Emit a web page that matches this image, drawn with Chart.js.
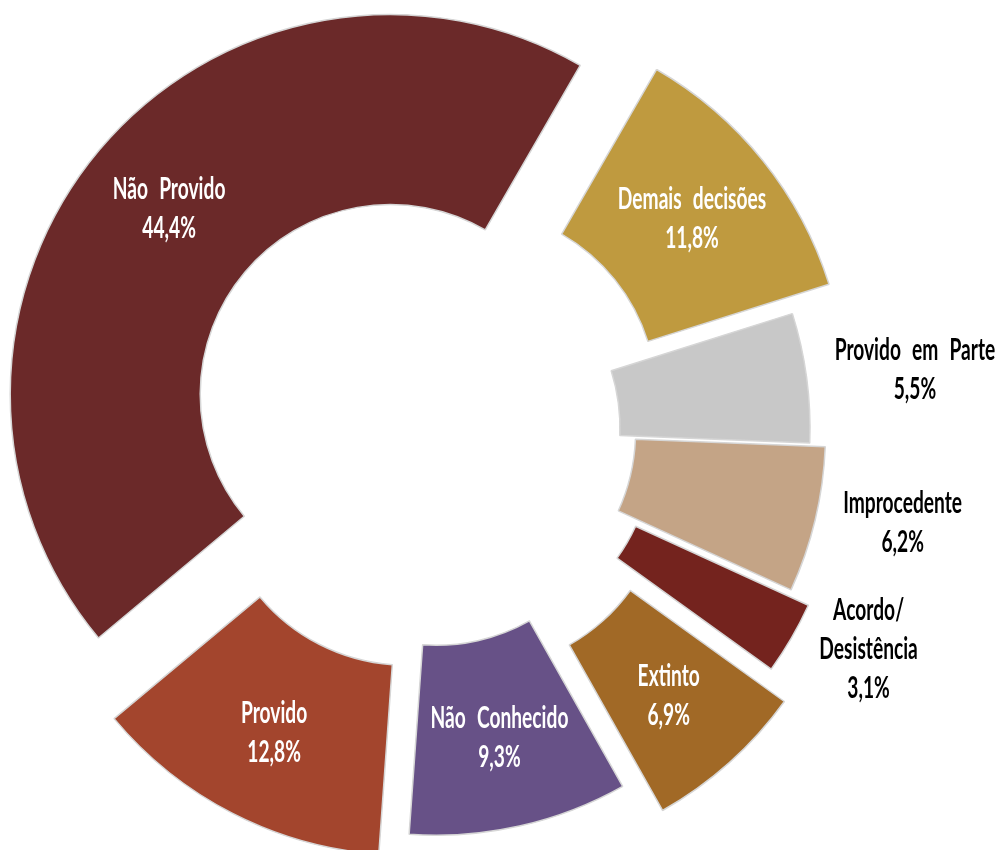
<!DOCTYPE html>
<html>
<head>
<meta charset="utf-8">
<script src="https://cdn.jsdelivr.net/npm/chart.js@4"></script>
<style>
  html, body { margin: 0; padding: 0; background: #ffffff; }
  #chart { display: block; }
</style>
</head>
<body>
<canvas id="chart" width="997" height="850"></canvas>
<script>
// Data (clockwise, starting at the top right)
const categories = ["Demais decisões", "Provido em Parte", "Improcedente", "Acordo/\nDesistência", "Extinto", "Não Conhecido", "Provido", "Não Provido"];
const values = [11.8, 5.5, 6.2, 3.1, 6.9, 9.3, 12.8, 44.4];

// Styles
const colors = ["#BF9A3F", "#C8C8C8", "#C4A486", "#74231E", "#A16926", "#675187", "#A3452D", "#6B2929"];
const explode = [47, 0, 16, 38, 69, 28, 53, 52];          // how far each slice is pulled out (px)
const labelOutside = [false, true, true, true, false, false, false, false];

const FONT = "bold 30px Lato, 'Liberation Sans', sans-serif";
const LINE_H = 39;
const SCALE_X = 0.64;

function pct(v) {
    return v.toFixed(1).replace(".", ",") + "%";
}

// Pull slices out along their middle angle
const explodePlugin = {
    id: "explode",
    afterDatasetUpdate(chart, args) {
        args.meta.data.forEach((arc, i) => {
            const mid = (arc.startAngle + arc.endAngle) / 2;
            arc.x += Math.cos(mid) * explode[i];
            arc.y += Math.sin(mid) * explode[i];
        });
    }
};

// Category + percent labels
const labelPlugin = {
    id: "sliceLabels",
    afterDatasetsDraw(chart) {
        const ctx = chart.ctx;
        const meta = chart.getDatasetMeta(0);
        ctx.save();
        ctx.font = FONT;
        if ("wordSpacing" in ctx) ctx.wordSpacing = "10px";
        ctx.textAlign = "center";
        ctx.textBaseline = "alphabetic";

        meta.data.forEach((arc, i) => {
            const lines = categories[i].split("\n").concat([pct(values[i])]);
            const mid = (arc.startAngle + arc.endAngle) / 2;
            const cos = Math.cos(mid), sin = Math.sin(mid);
            let cx, cy;
            if (labelOutside[i]) {
                // next to the outer edge, to the right of it
                const halfW = Math.max(...lines.map(l => ctx.measureText(l).width)) * SCALE_X / 2;
                cx = arc.x + cos * arc.outerRadius + 28 + halfW;
                cy = arc.y + sin * arc.outerRadius + 30 * sin - 5;
                ctx.fillStyle = "#000000";
            } else {
                const r = (arc.innerRadius + arc.outerRadius) / 2 + 4;
                cx = arc.x + cos * r;
                cy = arc.y + sin * r;
                ctx.fillStyle = "#ffffff";
            }
            const top = cy - (lines.length - 1) * LINE_H / 2;
            lines.forEach((line, k) => {
                ctx.save();
                ctx.translate(cx, top + k * LINE_H + 10.5);
                ctx.scale(SCALE_X, 1);
                ctx.fillText(line, 0, 0);
                ctx.restore();
            });
        });
        ctx.restore();
    }
};

new Chart(document.getElementById("chart"), {
    type: "doughnut",
    data: {
        labels: categories,
        datasets: [{
            data: values,
            backgroundColor: colors,
            borderColor: "#d6d6d6",
            borderWidth: 1.5
        }]
    },
    options: {
        responsive: false,
        animation: false,
        events: [],
        rotation: 30,
        radius: 380,
        cutout: "50%",
        layout: { padding: { left: 0, right: 137, top: 6, bottom: 0 } },
        plugins: {
            legend: { display: false },
            tooltip: { enabled: false }
        }
    },
    plugins: [explodePlugin, labelPlugin]
});
</script>
</body>
</html>
